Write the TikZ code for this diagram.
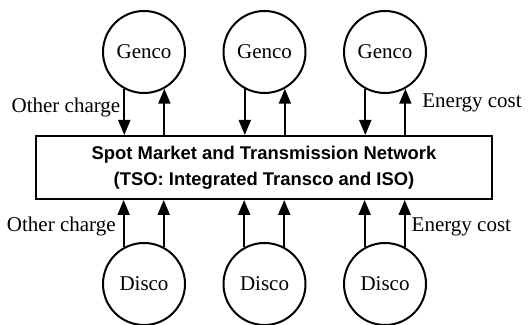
\documentclass[tikz,border=0pt]{standalone}
\usepackage{fontspec}
\setmainfont{Liberation Serif}
\setsansfont{Liberation Sans}
\usetikzlibrary{chains,positioning,arrows.meta}

\begin{document}
\begin{tikzpicture}[line width=1pt,
	every node/.style={font=\fontsize{10.5}{12}\selectfont},
	conode/.style={draw,circle,minimum size=41pt,inner sep=0pt},
	mktnode/.style={draw,rectangle,minimum width=228pt,minimum height=31.5pt,align=center,
		font=\sffamily\bfseries\fontsize{9.2}{13}\selectfont},
	flow/.style={-{Triangle[width=6pt,length=7.5pt]}},
	flowlabel/.style={inner sep=1pt},
	]
	\useasboundingbox (0,0) rectangle (264pt,162.5pt);
	
	% the gencos
	\begin{scope}[xshift=72pt,yshift=136.5pt,start chain=going right,node distance=18.25pt]
	\foreach \i in {1,2,3}
	\node[conode,on chain] (g\i) {Genco};
	\end{scope}
	
	% the discos
	\begin{scope}[xshift=72pt,yshift=20.5pt,start chain=going right,node distance=18.25pt]
	\foreach \i in {1,2,3}
	\node[conode,on chain] (d\i) {Disco};
	\end{scope}
	
	% the market
	\node[mktnode] (mkt) at (132pt,78.75pt)
	{Spot Market and Transmission Network\\(TSO: Integrated Transco and ISO)};
	
	% the flows with labels
	\draw[flow] (g1.-118) -- node[flowlabel,pos=0.4,left=0.5pt] {Other charge} (g1.-118 |- mkt.north);
	\draw[flow] (g3.-61 |- mkt.north) -- node[flowlabel,pos=0.7,right=7pt] {Energy cost} (g3.-61);
	\draw[flow] (d1.119) -- node[flowlabel,pos=0.43,left=2.5pt] {Other charge} (d1.119 |- mkt.south);
	\draw[flow] (d3.62) -- node[flowlabel,pos=0.43,right=2pt] {Energy cost} (d3.62 |- mkt.south);
	
	% the other flows
	\draw[flow] (g1.-61 |- mkt.north) -- (g1.-61);
	\draw[flow] (g2.-118) -- (g2.-118 |- mkt.north);
	\draw[flow] (g2.-61 |- mkt.north) -- (g2.-61);
	\draw[flow] (g3.-118) -- (g3.-118 |- mkt.north);
	\draw[flow] (d1.62) -- (d1.62 |- mkt.south);
	\draw[flow] (d2.119) -- (d2.119 |- mkt.south);
	\draw[flow] (d2.62) -- (d2.62 |- mkt.south);
	\draw[flow] (d3.119) -- (d3.119 |- mkt.south);
\end{tikzpicture}
\end{document}
